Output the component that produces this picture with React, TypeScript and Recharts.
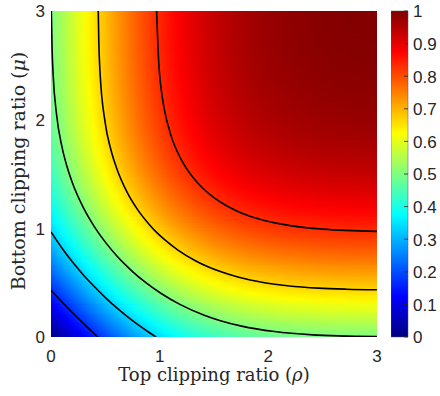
import React from 'react';
import { ComposedChart, BarChart, Bar, XAxis, YAxis, ReferenceArea, Scatter, Label } from 'recharts';

// sample positions along each axis (clipping ratio)
const samplePoints = [
  0, 0.05, 0.1, 0.15, 0.2, 0.25, 0.3, 0.35, 0.4, 0.45, 0.5, 0.55, 0.6, 0.65, 0.7, 0.75, 0.8, 0.85, 0.9, 0.95,
  1, 1.05, 1.1, 1.15, 1.2, 1.25, 1.3, 1.35, 1.4, 1.45, 1.5, 1.55, 1.6, 1.65, 1.7, 1.75, 1.8, 1.85, 1.9, 1.95,
  2, 2.05, 2.1, 2.15, 2.2, 2.25, 2.3, 2.35, 2.4, 2.45, 2.5, 2.55, 2.6, 2.65, 2.7, 2.75, 2.8, 2.85, 2.9, 2.95, 3,
];

// share contributed by the top clipping ratio (read along the mu = 0 edge)
const rhoShare = [
  0, 0.0199, 0.0398, 0.0596, 0.0793, 0.0987, 0.1179, 0.1368, 0.1554, 0.1736, 0.1915, 0.2088, 0.2257, 0.2422,
  0.258, 0.2734, 0.2881, 0.3023, 0.3159, 0.3289, 0.3413, 0.3531, 0.3643, 0.3749, 0.3849, 0.3944, 0.4032,
  0.4115, 0.4192, 0.4265, 0.4332, 0.4394, 0.4452, 0.4505, 0.4554, 0.4599, 0.4641, 0.4678, 0.4713, 0.4744,
  0.4772, 0.4798, 0.4821, 0.4842, 0.4861, 0.4878, 0.4893, 0.4906, 0.4918, 0.4929, 0.4938, 0.4946, 0.4953,
  0.496, 0.4965, 0.497, 0.4974, 0.4978, 0.4981, 0.4984, 0.4987,
];

// share contributed by the bottom clipping ratio (read along the rho = 0 edge)
const muShare = [
  0, 0.0199, 0.0398, 0.0596, 0.0793, 0.0987, 0.1179, 0.1368, 0.1554, 0.1736, 0.1915, 0.2088, 0.2257, 0.2422,
  0.258, 0.2734, 0.2881, 0.3023, 0.3159, 0.3289, 0.3413, 0.3531, 0.3643, 0.3749, 0.3849, 0.3944, 0.4032,
  0.4115, 0.4192, 0.4265, 0.4332, 0.4394, 0.4452, 0.4505, 0.4554, 0.4599, 0.4641, 0.4678, 0.4713, 0.4744,
  0.4772, 0.4798, 0.4821, 0.4842, 0.4861, 0.4878, 0.4893, 0.4906, 0.4918, 0.4929, 0.4938, 0.4946, 0.4953,
  0.496, 0.4965, 0.497, 0.4974, 0.4978, 0.4981, 0.4984, 0.4987,
];

const axisTicks = [0, 1, 2, 3];
const colorbarTicks = [0, 0.1, 0.2, 0.3, 0.4, 0.5, 0.6, 0.7, 0.8, 0.9, 1];
const colorbarRange = [{ name: 'scale', top: 1 }];

// contour lines (levels 1/6 ... 5/6)
const contour1 = [
  { rho: 0, mu: 0.431 }, { rho: 0.1, mu: 0.324 }, { rho: 0.2, mu: 0.221 }, { rho: 0.3, mu: 0.123 },
  { rho: 0.4, mu: 0.028 }, { rho: 0.431, mu: 0 },
];
const contour2 = [
  { rho: 0, mu: 0.967 }, { rho: 0.1, mu: 0.819 }, { rho: 0.2, mu: 0.687 }, { rho: 0.3, mu: 0.569 },
  { rho: 0.4, mu: 0.462 }, { rho: 0.5, mu: 0.363 }, { rho: 0.6, mu: 0.273 }, { rho: 0.7, mu: 0.19 },
  { rho: 0.8, mu: 0.114 }, { rho: 0.9, mu: 0.044 }, { rho: 0.967, mu: 0 },
];
const contour3 = [
  { rho: 0.003, mu: 3 }, { rho: 0.01, mu: 2.65 }, { rho: 0.02, mu: 2.41 }, { rho: 0.05, mu: 2.057 },
  { rho: 0.1, mu: 1.754 }, { rho: 0.15, mu: 1.559 }, { rho: 0.2, mu: 1.41 }, { rho: 0.3, mu: 1.186 },
  { rho: 0.4, mu: 1.014 }, { rho: 0.5, mu: 0.873 }, { rho: 0.6, mu: 0.753 }, { rho: 0.7, mu: 0.65 },
  { rho: 0.753, mu: 0.6 }, { rho: 0.873, mu: 0.5 }, { rho: 1.014, mu: 0.4 }, { rho: 1.186, mu: 0.3 },
  { rho: 1.41, mu: 0.2 }, { rho: 1.559, mu: 0.15 }, { rho: 1.754, mu: 0.1 }, { rho: 2.057, mu: 0.05 },
  { rho: 2.41, mu: 0.02 }, { rho: 2.65, mu: 0.01 }, { rho: 3, mu: 0.003 },
];
const contour4 = [
  { rho: 0.435, mu: 3 }, { rho: 0.44, mu: 2.72 }, { rho: 0.45, mu: 2.46 }, { rho: 0.5, mu: 1.964 },
  { rho: 0.55, mu: 1.728 }, { rho: 0.6, mu: 1.565 }, { rho: 0.7, mu: 1.333 }, { rho: 0.8, mu: 1.168 },
  { rho: 0.9, mu: 1.04 }, { rho: 0.967, mu: 0.967 }, { rho: 1.04, mu: 0.9 }, { rho: 1.168, mu: 0.8 },
  { rho: 1.333, mu: 0.7 }, { rho: 1.565, mu: 0.6 }, { rho: 1.728, mu: 0.55 }, { rho: 1.964, mu: 0.5 },
  { rho: 2.46, mu: 0.45 }, { rho: 2.72, mu: 0.44 }, { rho: 3, mu: 0.435 },
];
const contour5 = [
  { rho: 0.972, mu: 3 }, { rho: 0.993, mu: 2.5 }, { rho: 1.0, mu: 2.41 }, { rho: 1.025, mu: 2.2 },
  { rho: 1.05, mu: 2.06 }, { rho: 1.1, mu: 1.867 }, { rho: 1.2, mu: 1.63 }, { rho: 1.3, mu: 1.477 },
  { rho: 1.4, mu: 1.367 }, { rho: 1.5, mu: 1.282 }, { rho: 1.6, mu: 1.217 }, { rho: 1.7, mu: 1.165 },
  { rho: 1.8, mu: 1.123 }, { rho: 1.867, mu: 1.1 }, { rho: 2.06, mu: 1.05 }, { rho: 2.2, mu: 1.025 },
  { rho: 2.41, mu: 1.0 }, { rho: 2.5, mu: 0.993 }, { rho: 3, mu: 0.972 },
];
const contours = [contour1, contour2, contour3, contour4, contour5];

// matlab-style jet colormap
const jet = (v: number) => {
  const ch = (c: number) => Math.round(255 * Math.max(0, Math.min(1, 1.5 - Math.abs(4 * v - c))));
  return `rgb(${ch(3)},${ch(2)},${ch(1)})`;
};

const grid = muShare.map((m) => rhoShare.map((r) => r + m));

const TICK_FAMILY = 'Liberation Sans, Arial, sans-serif';
const LABEL_FAMILY = 'DejaVu Serif, serif';
const INK = '#262626';

const XTick = ({ x, y, payload }: any) => (
  <text x={x} y={y} dy="0.71em" textAnchor="middle" fontFamily={TICK_FAMILY} fontSize={17} fill={INK}>
    {payload.value}
  </text>
);

const YTick = ({ x, y, payload }: any) => (
  <text x={x} y={y} dy="0.38em" textAnchor="end" fontFamily={TICK_FAMILY} fontSize={17} fill={INK}>
    {payload.value}
  </text>
);

const BarTick = ({ x, y, payload }: any) => (
  <g>
    <line x1={x - 9} x2={x - 5} y1={y} y2={y} stroke={INK} strokeWidth={0.8} />
    <text x={x} y={y} dy="0.38em" textAnchor="start" fontFamily={TICK_FAMILY} fontSize={17} fill={INK}>
      {String(payload.value)}
    </text>
  </g>
);

const XLabel = ({ viewBox }: any) => (
  <text x={viewBox.x + viewBox.width / 2} y={381} textAnchor="middle" fontFamily={LABEL_FAMILY} fontSize={18} fill={INK}>
    Top clipping ratio (<tspan fontStyle="italic">ρ</tspan>)
  </text>
);

const YLabel = ({ viewBox }: any) => {
  const cy = viewBox.y + viewBox.height / 2 - 3;
  return (
    <text x={25} y={cy} transform={`rotate(-90, 25, ${cy})`} textAnchor="middle" fontFamily={LABEL_FAMILY} fontSize={19} fill={INK}>
      Bottom clipping ratio (<tspan fontStyle="italic">μ</tspan>)
    </text>
  );
};

const band = (fill: string, masked: boolean) => (p: any) => (
  <rect
    x={p.x}
    y={p.y}
    width={p.width}
    height={p.height}
    fill={fill}
    mask={masked ? 'url(#bandFade)' : undefined}
    shapeRendering="crispEdges"
  />
);

export default function App() {
  return (
    <div style={{ position: 'absolute', left: 0, top: 0, width: 440, height: 396, background: '#fff' }}>
      <svg width={0} height={0} style={{ position: 'absolute' }}>
        <defs>
          {grid.map((row, j) => (
            <linearGradient key={j} id={`row${j}`} x1="0" y1="0" x2="1" y2="0">
              {row.map((v, i) => (
                <stop key={i} offset={samplePoints[i] / 3} stopColor={jet(v)} />
              ))}
            </linearGradient>
          ))}
          <linearGradient id="fadeDown" x1="0" y1="0" x2="0" y2="1">
            <stop offset="0" stopColor="#fff" stopOpacity={1} />
            <stop offset="1" stopColor="#fff" stopOpacity={0} />
          </linearGradient>
          <mask id="bandFade" maskContentUnits="objectBoundingBox">
            <rect x={0} y={0} width={1} height={1} fill="url(#fadeDown)" />
          </mask>
          <linearGradient id="jetBar" x1="0" y1="1" x2="0" y2="0">
            {[0, 0.125, 0.375, 0.625, 0.875, 1].map((v) => (
              <stop key={v} offset={v} stopColor={jet(v)} />
            ))}
          </linearGradient>
        </defs>
      </svg>

      <div style={{ position: 'absolute', left: 0, top: 0 }}>
        <ComposedChart width={440} height={396} margin={{ top: 11, right: 63, bottom: 0, left: 0 }}>
          <XAxis
            type="number"
            dataKey="rho"
            domain={[0, 3]}
            ticks={axisTicks}
            allowDataOverflow
            axisLine={false}
            tickLine={false}
            tickSize={0}
            tickMargin={13}
            height={59}
            tick={XTick}
          >
            <Label content={XLabel} />
          </XAxis>
          <YAxis
            type="number"
            dataKey="mu"
            domain={[0, 3]}
            ticks={axisTicks}
            allowDataOverflow
            axisLine={false}
            tickLine={false}
            tickSize={0}
            tickMargin={6}
            width={51}
            tick={YTick}
          >
            <Label content={YLabel} />
          </YAxis>
          {samplePoints.slice(0, -1).map((m, j) => (
            <ReferenceArea key={`b${j}`} x1={0} x2={3} y1={m} y2={samplePoints[j + 1]} shape={band(`url(#row${j})`, false)} />
          ))}
          {samplePoints.slice(0, -1).map((m, j) => (
            <ReferenceArea key={`t${j}`} x1={0} x2={3} y1={m} y2={samplePoints[j + 1]} shape={band(`url(#row${j + 1})`, true)} />
          ))}
          {contours.map((c, k) => (
            <Scatter
              key={k}
              data={c}
              line={{ stroke: '#000', strokeWidth: 1.6 }}
              lineJointType="monotoneX"
              shape={() => <g />}
              isAnimationActive={false}
            />
          ))}
        </ComposedChart>
      </div>

      <div style={{ position: 'absolute', left: 391, top: 0 }}>
        <BarChart width={49} height={396} data={colorbarRange} margin={{ top: 11, right: 0, bottom: 59, left: 0 }} barCategoryGap={0}>
          <XAxis dataKey="name" hide />
          <YAxis
            type="number"
            orientation="right"
            domain={[0, 1]}
            ticks={colorbarTicks}
            axisLine={false}
            tickLine={false}
            tickSize={0}
            tickMargin={5}
            width={32}
            tick={BarTick}
          />
          <Bar dataKey="top" fill="url(#jetBar)" stroke="#555" strokeWidth={0.5} isAnimationActive={false} />
        </BarChart>
      </div>
    </div>
  );
}
